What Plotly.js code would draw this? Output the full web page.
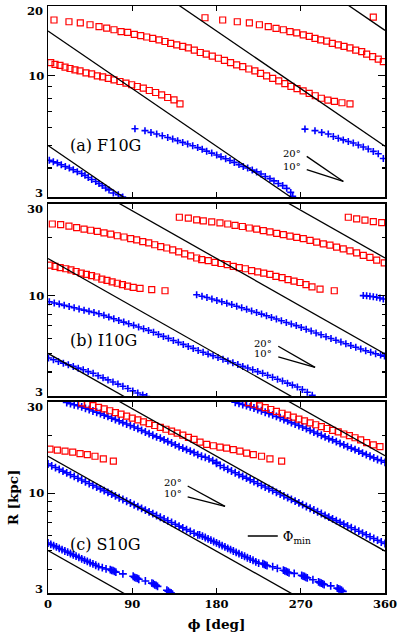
<!DOCTYPE html>
<html>
<head>
<meta charset="utf-8">
<script src="https://cdn.plot.ly/plotly-3.0.1.min.js"></script>
<style>
  html, body { margin: 0; padding: 0; background: #fff; }
  #plot { width: 399px; height: 639px; }
</style>
</head>
<body>
<div id="plot"></div>
<script>
// --- values: phi in deg, R in kpc ---

// Phi_min lines (pitch 20 deg), R at phi = 0 and phi = 360, same in all panels
const lineR0   = [5.0, 15.6, 49, 155];
const lineR360 = [0.507, 1.58, 4.97, 15.7];

// (a) F10G
const aRed1Phi = [6.4, 22.4, 34.5, 44.9, 54.5, 62.7, 70.5, 78, 85.1, 92.2, 99, 105.4, 111.8, 118.6, 125, 131, 137.5, 143.9, 149.9, 156.3, 162.7, 169, 175.5, 182, 188.5, 195, 201.5, 208, 214.5, 221, 227, 233.5, 240, 246.5, 253, 259.5, 266, 272.5, 279, 285.5, 292, 299, 306, 314, 322.6];
const aRed1R   = [17.4, 17.1, 16.9, 16.6, 16.3, 16.05, 15.8, 15.5, 15.4, 15.1, 14.9, 14.7, 14.5, 14.3, 14.06, 13.8, 13.6, 13.4, 13.2, 12.9, 12.6, 12.4, 12.15, 11.9, 11.65, 11.4, 11.15, 10.95, 10.7, 10.5, 10.25, 10.0, 9.75, 9.5, 9.25, 9.0, 8.8, 8.6, 8.4, 8.2, 8.0, 7.85, 7.75, 7.65, 7.57];
const aRed2Phi = [167.7, 186.6, 202.2, 215.1, 225.8, 235.3, 243.6, 251.4, 258.5, 265.7, 272.7, 279.1, 285.2, 291.3, 297.7, 303.7, 310.1, 316.2, 322.6, 328.7, 335.1, 340.4, 346.8, 352.8, 358.2];
const aRed2R   = [17.8, 17.4, 17.1, 16.9, 16.6, 16.3, 16.0, 15.8, 15.5, 15.3, 15.0, 14.8, 14.5, 14.3, 14.1, 13.8, 13.6, 13.4, 13.2, 12.9, 12.7, 12.4, 12.1, 11.8, 11.5];
const aRed3Phi = [2.9, 7.5, 12.8, 18.2, 23.5, 28.8, 34.2, 40.6, 46.6, 52.7, 58.4, 64.4, 70.5, 76.9, 83.3, 89.4, 95.4, 101.8, 108.2, 115, 121.4, 127.8, 134.6, 141];
const aRed3R   = [11.4, 11.2, 11.1, 10.9, 10.75, 10.6, 10.5, 10.3, 10.2, 10.0, 9.9, 9.75, 9.6, 9.45, 9.3, 9.15, 8.99, 8.85, 8.64, 8.47, 8.28, 8.06, 7.88, 7.57];
const aRed4Phi = [347.5];
const aRed4R   = [17.9];
const aBlue1Phi = [1.4, 5.7, 10, 14.2, 18.5, 22.8, 27, 31.3, 36, 39.5, 43, 46.7, 51, 54.5, 58, 61.6, 65.2, 69.8, 75.1, 79.8];
const aBlue1R   = [4.32, 4.26, 4.21, 4.13, 4.06, 4.0, 3.93, 3.86, 3.79, 3.72, 3.64, 3.57, 3.50, 3.43, 3.36, 3.28, 3.22, 3.12, 3.07, 3.0];
const aBlue2Phi = [92.9, 103.6, 110, 116.1, 122.1, 127.9, 133.2, 138.5, 143.9, 149.2, 154.6, 159.9, 164.7, 169.5, 174.9, 180.2, 184.8, 189.8, 194.4, 199, 204, 208.6, 213.3, 218.2, 222.9, 227.5, 232.1, 237.1, 241.4, 246, 250.7, 255, 259.3, 261.4];
const aBlue2R   = [5.91, 5.80, 5.70, 5.61, 5.51, 5.42, 5.34, 5.25, 5.16, 5.08, 4.99, 4.90, 4.82, 4.73, 4.64, 4.55, 4.47, 4.39, 4.31, 4.23, 4.14, 4.06, 4.0, 3.92, 3.85, 3.77, 3.68, 3.60, 3.52, 3.43, 3.36, 3.27, 3.14, 3.02];
const aBlue3Phi = [274.5, 285.2, 292.4, 299.4, 304.8, 310.1, 315.4, 320.8, 326.1, 331.5, 336.8, 342.1, 347.5, 352.8, 358.2];
const aBlue3R   = [5.89, 5.80, 5.70, 5.61, 5.47, 5.38, 5.29, 5.21, 5.13, 5.03, 4.93, 4.83, 4.72, 4.61, 4.40];

// (b) I10G
const bRed1Phi = [4.6, 13.5, 22.4, 30.6, 38.5, 45.6, 52.7, 59.8, 67, 74, 81.2, 88.3, 94.7, 101.2, 107.6, 114, 120.4, 126.8, 133.2, 139.6, 146, 152.4, 158.8, 164.2, 171.2, 178.4, 184.8, 191.5, 197.9, 204.3, 210.8, 217.5, 224, 230.4, 237.1, 243.5, 250, 256.4, 262.8, 269.2, 275.6, 282, 290.6, 305.8];
const bRed1R   = [23.6, 23.4, 23.0, 22.6, 22.2, 21.9, 21.6, 21.2, 20.9, 20.5, 20.2, 19.8, 19.5, 19.1, 18.8, 18.4, 18.0, 17.7, 17.3, 16.9, 16.5, 16.1, 15.7, 15.4, 15.2, 14.9, 14.7, 14.5, 14.2, 14.0, 13.8, 13.5, 13.3, 13.1, 12.9, 12.6, 12.4, 12.1, 11.9, 11.7, 11.4, 11.1, 10.8, 10.6];
const bRed2Phi = [140.3, 149.9, 158.8, 165.9, 174.9, 183.7, 192, 199.8, 207.6, 215, 222.9, 230, 237.1, 244.3, 251.4, 258.5, 265.7, 272.7, 279.9, 287, 294.1, 301.2, 308.3, 315.4, 322.6, 329.7, 336.8, 343.9, 351.1, 359.2];
const bRed2R   = [25.6, 25.3, 24.8, 24.5, 24.2, 23.9, 23.6, 23.2, 22.9, 22.5, 22.2, 21.8, 21.5, 21.1, 20.8, 20.4, 20.1, 19.8, 19.4, 19.0, 18.6, 18.3, 17.9, 17.5, 17.1, 16.7, 16.2, 15.8, 15.3, 14.8];
const bRed3Phi = [320.8, 329.7, 338.6, 347.5, 356.5];
const bRed3R   = [25.6, 25.1, 24.7, 24.3, 24.0];
const bRed4Phi = [2, 7.5, 13, 19, 24.5, 30, 35.5, 41, 46.5, 52, 57.5, 63, 68.5, 74, 79.5, 85, 91, 98.3, 110.8, 125];
const bRed4R   = [14.4, 14.2, 14.0, 13.8, 13.6, 13.35, 13.1, 12.9, 12.7, 12.5, 12.2, 12.0, 11.8, 11.6, 11.4, 11.2, 11.05, 10.9, 10.75, 10.6];
const bBlue1Phi = [1.4, 6.7, 12, 17.3, 22.6, 27.9, 33.2, 38.5, 43.8, 49.1, 54.4, 59.7, 65, 70.3, 75.6, 80.9, 86.2, 91.5, 96.8, 102.1, 107.4, 112.7, 118, 123.3, 128.6, 133.9, 139.2, 144.5, 149.8, 155.1, 160.4, 165.7, 171, 176.3, 181.6, 186.9, 192.2, 197.5, 202.8, 208.1, 213.4, 218.7, 224, 229.3, 234.6, 239.9, 245.2, 250.5, 255.8, 261.1, 266.4, 271.7, 277, 282.3];
const bBlue1R   = [9.29, 9.16, 9.03, 8.90, 8.77, 8.64, 8.52, 8.40, 8.28, 8.16, 8.04, 7.89, 7.73, 7.58, 7.43, 7.28, 7.14, 7.00, 6.86, 6.72, 6.59, 6.44, 6.28, 6.13, 5.99, 5.84, 5.71, 5.57, 5.44, 5.31, 5.18, 5.07, 4.96, 4.86, 4.76, 4.66, 4.56, 4.47, 4.38, 4.28, 4.20, 4.11, 4.02, 3.94, 3.85, 3.76, 3.67, 3.59, 3.50, 3.42, 3.34, 3.24, 3.14, 3.03];
const bBlue2Phi = [158.8, 164.5, 169.8, 175.1, 180.4, 185.7, 191, 196.3, 201.6, 206.9, 212.2, 217.5, 222.8, 228.1, 233.4, 238.7, 244, 249.3, 254.6, 259.9, 265.2, 270.5, 275.8, 281.1, 286.4, 291.7, 297, 302.3, 307.6, 312.9, 318.2, 323.5, 328.8, 334.1, 339.4, 344.7, 350, 355.3, 359.5];
const bBlue2R   = [10.1, 9.93, 9.77, 9.60, 9.44, 9.29, 9.13, 8.98, 8.81, 8.65, 8.48, 8.32, 8.16, 8.01, 7.85, 7.70, 7.55, 7.40, 7.25, 7.11, 6.98, 6.83, 6.68, 6.54, 6.39, 6.25, 6.11, 5.98, 5.85, 5.73, 5.61, 5.49, 5.38, 5.27, 5.16, 5.07, 4.98, 4.90, 4.84];
const bBlue3Phi = [336.8, 340.4, 343.9, 347.5, 351.1, 354.6, 358.2];
const bBlue3R   = [10.0, 9.97, 9.93, 9.87, 9.81, 9.72, 9.61];
const bBlue4Phi = [0.5, 5.8, 11.1, 16.4, 21.7, 27, 32.3, 37.6, 42.9, 48.2, 53.5, 58.8, 64.1, 69.4, 74.7, 80, 85.3, 90.6, 95.9, 101.2, 105.4];
const bBlue4R   = [4.73, 4.63, 4.54, 4.45, 4.36, 4.28, 4.19, 4.11, 4.02, 3.94, 3.83, 3.73, 3.64, 3.55, 3.46, 3.37, 3.28, 3.19, 3.11, 3.04, 2.98];

// (c) S10G
const cRed1Phi = [36, 42, 48, 54, 60, 66, 72, 78, 84, 90, 96, 102, 108, 114, 120, 126, 132, 138, 144, 150, 156, 162.4, 169.5, 176.6, 183.7, 190.8, 197.9, 205, 212.2, 219.3, 228.1, 237.1, 249.6];
const cRed1R   = [29.7, 29.2, 28.7, 28.1, 27.6, 27.0, 26.4, 25.9, 25.3, 24.7, 24.2, 23.6, 23.1, 22.6, 22.1, 21.6, 21.1, 20.6, 20.1, 19.6, 19.1, 18.5, 18.0, 17.7, 17.4, 17.2, 16.9, 16.6, 16.2, 15.9, 15.6, 15.1, 14.7];
const cRed2Phi = [214, 220, 226, 232, 238, 244, 250, 256, 262, 268, 274, 280, 286, 292, 298, 304, 310, 316, 322, 328, 334, 340.4, 347.5, 354.6];
const cRed2R   = [29.8, 29.2, 28.6, 28.0, 27.4, 26.8, 26.2, 25.6, 25.0, 24.4, 23.9, 23.3, 22.8, 22.3, 21.8, 21.3, 20.9, 20.4, 20.0, 19.5, 19.0, 18.4, 17.9, 17.5];
const cRed3Phi = [2.1, 10, 18.2, 26.4, 34.2, 42, 50.2, 59.1, 69.8];
const cRed3R   = [17.0, 16.8, 16.6, 16.4, 16.1, 15.9, 15.6, 15.1, 14.7];

const cBlueUpXPhi = [20, 24, 28, 32, 36, 40, 44, 48, 52, 56, 60, 64, 68, 72, 76, 80, 84, 88, 92, 96, 100, 104, 108, 112, 116, 120, 124, 128, 132, 136, 140, 144, 148, 152, 156, 160, 164, 168, 172, 176, 180];
const cBlueUpYPhi = [200, 204, 208, 212, 216, 220, 224, 228, 232, 236, 240, 244, 248, 252, 256, 260, 264, 268, 272, 276, 280, 284, 288, 292, 296, 300, 304, 308, 312, 316, 320, 324, 328, 332, 336, 340, 344, 348, 352, 356, 360];
const cBlueUpXR = [29.8, 29.4, 29.0, 28.7, 28.3, 27.8, 27.4, 26.9, 26.5, 26.1, 25.6, 25.2, 24.7, 24.3, 23.9, 23.4, 23.0, 22.6, 22.2, 21.8, 21.3, 20.9, 20.5, 20.1, 19.7, 19.4, 19.0, 18.6, 18.3, 17.9, 17.5, 17.2, 16.9, 16.6, 16.3, 15.9, 15.6, 15.4, 15.1, 14.8, 14.5];
const cBlueUpYR = [29.9, 29.5, 29.1, 28.7, 28.3, 27.9, 27.4, 27.0, 26.5, 26.1, 25.7, 25.2, 24.8, 24.3, 23.9, 23.4, 23.0, 22.6, 22.2, 21.8, 21.3, 20.9, 20.5, 20.1, 19.7, 19.3, 19.0, 18.6, 18.2, 17.9, 17.5, 17.2, 16.9, 16.6, 16.2, 15.9, 15.6, 15.3, 15.0, 14.8, 14.5];

const cBlueMidYPhi = [0, 4, 8, 12, 16, 20, 24, 28, 32, 36, 40, 44, 48, 52, 56, 60, 64, 68, 72, 76, 80, 84, 88, 92, 96, 100, 104, 108, 112, 116, 120, 124, 128, 132, 136, 140, 144, 148, 152, 156, 160];
const cBlueMidYR   = [14.20, 13.90, 13.61, 13.32, 13.04, 12.76, 12.49, 12.23, 11.97, 11.72, 11.47, 11.23, 10.99, 10.76, 10.53, 10.31, 10.09, 9.88, 9.67, 9.46, 9.26, 9.07, 8.88, 8.69, 8.50, 8.32, 8.15, 7.98, 7.81, 7.64, 7.48, 7.32, 7.17, 7.02, 6.87, 6.72, 6.58, 6.44, 6.31, 6.17, 6.04];
const cBlueMidXPhi = [180, 184, 188, 192, 196, 200, 204, 208, 212, 216, 220, 224, 228, 232, 236, 240, 244, 248, 252, 256, 260, 264, 268, 272, 276, 280, 284, 288, 292, 296, 300, 304, 308, 312, 316, 320, 324, 328, 332, 336, 340, 344, 348, 352, 356, 360];
const cBlueMidXR   = [14.3, 13.95, 13.63, 13.33, 13.05, 12.78, 12.50, 12.24, 11.98, 11.73, 11.48, 11.24, 11.00, 10.77, 10.54, 10.32, 10.10, 9.89, 9.68, 9.47, 9.27, 9.08, 8.89, 8.70, 8.51, 8.33, 8.16, 7.99, 7.82, 7.65, 7.49, 7.33, 7.18, 7.03, 6.88, 6.73, 6.59, 6.45, 6.32, 6.18, 6.05, 5.91, 5.79, 5.67, 5.55, 5.45];

const cBlueLowXPhi = [0, 3, 6, 9, 12, 15, 18, 21, 24, 27, 30, 33, 36, 39, 42, 45, 48, 51, 54, 58, 62, 66.5, 68, 69.5, 71, 72.5, 80, 91, 92.5, 94, 95.5, 97, 104, 111, 112.5, 114, 115.5, 117, 127, 128.5, 130, 131.5, 133];
const cBlueLowXR   = [5.48, 5.39, 5.31, 5.23, 5.14, 5.06, 4.98, 4.91, 4.83, 4.75, 4.68, 4.61, 4.53, 4.46, 4.39, 4.32, 4.26, 4.19, 4.12, 4.07, 4.01, 3.98, 3.94, 3.93, 3.89, 3.86, 3.78, 3.67, 3.62, 3.60, 3.58, 3.54, 3.47, 3.38, 3.36, 3.31, 3.29, 3.25, 3.10, 3.07, 3.02, 3.00, 2.96];
const cBlueLowYPhi = [162, 165, 168, 171, 174, 177, 180, 183, 186, 189, 192, 195, 198, 201, 204, 207, 210, 213, 216, 219, 222, 225, 229.5, 231, 232.5, 234, 240, 245, 251.5, 253, 254.5, 256, 257.5, 263, 271, 272.5, 274, 275.5, 277, 283, 289, 290.5, 292, 293.5, 295, 302, 309, 310.5, 312, 313.5, 315];
const cBlueLowYR   = [6.05, 5.95, 5.86, 5.76, 5.67, 5.58, 5.49, 5.40, 5.31, 5.23, 5.14, 5.06, 4.98, 4.90, 4.82, 4.74, 4.67, 4.59, 4.52, 4.45, 4.37, 4.30, 4.27, 4.24, 4.20, 4.17, 4.12, 4.04, 3.95, 3.92, 3.89, 3.86, 3.83, 3.80, 3.71, 3.68, 3.66, 3.62, 3.60, 3.52, 3.43, 3.40, 3.38, 3.35, 3.32, 3.27, 3.18, 3.15, 3.13, 3.10, 3.06];

// pitch-angle keys: 20 deg and 10 deg segments meeting at one end
const keyPhi = [[276.4, 315.5], [246, 285.3], [149.2, 189.1]];
const key20R = [[4.49, 3.50], [5.45, 4.23], [10.9, 8.52]];
const key10R = [[3.94, 3.50], [4.80, 4.23], [9.57, 8.52]];

// axes
const yBottom = [3, 3, 3];
const yTop = [20, 30, 30];
const yMinorTicks = [[4, 5, 6, 7, 8, 9], [4, 5, 6, 7, 8, 9, 20], [4, 5, 6, 7, 8, 9, 20]];
const phiTicks = [0, 90, 180, 270, 360];
const panelNames = ["(a) F10G", "(b) I10G", "(c) S10G"];

function drawFigure() {
  const RED = "#ff0000", BLUE = "#0000ff";
  const FONT = "DejaVu Serif";
  const ax = n => (n === 1 ? "" : String(n));

  function points(phi, r, n, color) {
    const isRed = color === RED;
    // the S10G bands are packed tighter, crosses a touch larger there
    const crossSize = n === 3 ? 5.6 : 5;
    return {
      type: "scatter", mode: "markers", x: phi, y: r,
      xaxis: "x" + ax(n), yaxis: "y" + ax(n),
      showlegend: false, hoverinfo: "skip",
      marker: isRed
        ? { symbol: "square-open", size: 6, color: RED, line: { color: RED, width: 1.2 } }
        : { symbol: "cross-thin-open", size: crossSize, color: BLUE, line: { color: BLUE, width: 1.6 } }
    };
  }

  function segment(phi, r, n, legend) {
    const t = {
      type: "scatter", mode: "lines", x: phi, y: r,
      xaxis: "x" + ax(n), yaxis: "y" + ax(n),
      line: { color: "black", width: 1.3 },
      hoverinfo: "skip", showlegend: false
    };
    if (legend) { t.showlegend = true; t.name = legend; }
    return t;
  }

  const traces = [
    points(aRed1Phi, aRed1R, 1, RED), points(aRed2Phi, aRed2R, 1, RED),
    points(aRed3Phi, aRed3R, 1, RED), points(aRed4Phi, aRed4R, 1, RED),
    points(aBlue1Phi, aBlue1R, 1, BLUE), points(aBlue2Phi, aBlue2R, 1, BLUE),
    points(aBlue3Phi, aBlue3R, 1, BLUE),

    points(bRed1Phi, bRed1R, 2, RED), points(bRed2Phi, bRed2R, 2, RED),
    points(bRed3Phi, bRed3R, 2, RED), points(bRed4Phi, bRed4R, 2, RED),
    points(bBlue1Phi, bBlue1R, 2, BLUE), points(bBlue2Phi, bBlue2R, 2, BLUE),
    points(bBlue3Phi, bBlue3R, 2, BLUE), points(bBlue4Phi, bBlue4R, 2, BLUE),

    points(cBlueUpXPhi, cBlueUpXR, 3, BLUE), points(cBlueUpYPhi, cBlueUpYR, 3, BLUE),
    points(cBlueMidXPhi, cBlueMidXR, 3, BLUE), points(cBlueMidYPhi, cBlueMidYR, 3, BLUE),
    points(cBlueLowXPhi, cBlueLowXR, 3, BLUE), points(cBlueLowYPhi, cBlueLowYR, 3, BLUE),
    points(cRed1Phi, cRed1R, 3, RED), points(cRed2Phi, cRed2R, 3, RED),
    points(cRed3Phi, cRed3R, 3, RED)
  ];

  // Phi_min lines drawn over the points, then the pitch keys
  for (let n = 1; n <= 3; n++) {
    lineR0.forEach((r0, i) => {
      traces.push(segment([0, 360], [r0, lineR360[i]], n,
        n === 3 && i === 0 ? "\u03a6<sub>min</sub>" : null));
    });
    traces.push(segment(keyPhi[n - 1], key20R[n - 1], n));
    traces.push(segment(keyPhi[n - 1], key10R[n - 1], n));
  }

  const domains = [[0.6746, 1], [0.3356, 0.6627], [0, 0.3254]];
  const tickFont = { family: FONT, size: 11.5, weight: "bold" };

  const layout = {
    width: 399, height: 639,
    margin: { l: 48, r: 14, t: 6, b: 46 },
    paper_bgcolor: "white", plot_bgcolor: "white",
    font: { family: FONT, color: "black", size: 12 },
    showlegend: true,
    legend: {
      x: 0.578, y: 0.097, xanchor: "left", yanchor: "middle",
      bgcolor: "rgba(0,0,0,0)", font: { family: FONT, size: 13 }
    },
    annotations: [],
    hovermode: false
  };

  for (let n = 1; n <= 3; n++) {
    const i = n - 1;
    const xa = {
      domain: [0, 1], anchor: "y" + ax(n), range: [0, 360],
      tickmode: "array", tickvals: phiTicks,
      showticklabels: n === 3,
      ticks: "inside", ticklen: 5, tickwidth: 1.2, tickcolor: "black",
      showline: true, linecolor: "black", linewidth: 1.5, mirror: "allticks",
      showgrid: false, zeroline: false, tickfont: tickFont
    };
    const ya = {
      domain: domains[i], anchor: "x" + ax(n), type: "log",
      range: [Math.log10(yBottom[i]), Math.log10(yTop[i])],
      tickmode: "array", tickvals: [10], ticktext: ["10"],
      ticks: "inside", ticklen: 7, tickwidth: 1.2, tickcolor: "black",
      minor: { tickmode: "array", tickvals: yMinorTicks[i], ticks: "inside", ticklen: 3.5, tickwidth: 1.2, tickcolor: "black", showgrid: false },
      showline: true, linecolor: "black", linewidth: 1.5, mirror: "allticks",
      showgrid: false, zeroline: false, tickfont: tickFont
    };
    if (n === 3) {
      xa.title = { text: "\u03d5 [deg]", font: { family: FONT, size: 13.5, weight: "bold" }, standoff: 9 };
      ya.title = { text: "R [kpc]", font: { family: FONT, size: 13.5, weight: "bold" }, standoff: 6 };
    }
    layout["xaxis" + ax(n)] = xa;
    layout["yaxis" + ax(n)] = ya;

    // end labels of the log axis sit just inside the panel, as in the original
    [[yBottom[i], 4], [yTop[i], -5]].forEach(([v, shift]) => {
      layout.annotations.push({
        xref: "x" + ax(n) + " domain", yref: "y" + ax(n),
        x: 0, y: Math.log10(v), xanchor: "right", yanchor: "middle",
        xshift: -3, yshift: shift,
        text: String(v), showarrow: false, font: tickFont
      });
    });

    layout.annotations.push({
      xref: "x" + ax(n) + " domain", yref: "y" + ax(n) + " domain",
      x: 0.06, y: [0.268, 0.2875, 0.253][i], xanchor: "left", yanchor: "middle",
      text: panelNames[i], showarrow: false, font: { family: FONT, size: 16 }
    });
    [["20\u00b0", key20R[i][0]], ["10\u00b0", key10R[i][0]]].forEach(([txt, r]) => {
      layout.annotations.push({
        xref: "x" + ax(n), yref: "y" + ax(n),
        x: keyPhi[i][0], y: Math.log10(r), xanchor: "right", yanchor: "middle",
        xshift: -4, yshift: 3,
        text: txt, showarrow: false, font: { family: FONT, size: 10 }
      });
    });
  }

  Plotly.newPlot("plot", traces, layout, { staticPlot: true, displayModeBar: false });
}

drawFigure();
</script>
</body>
</html>
